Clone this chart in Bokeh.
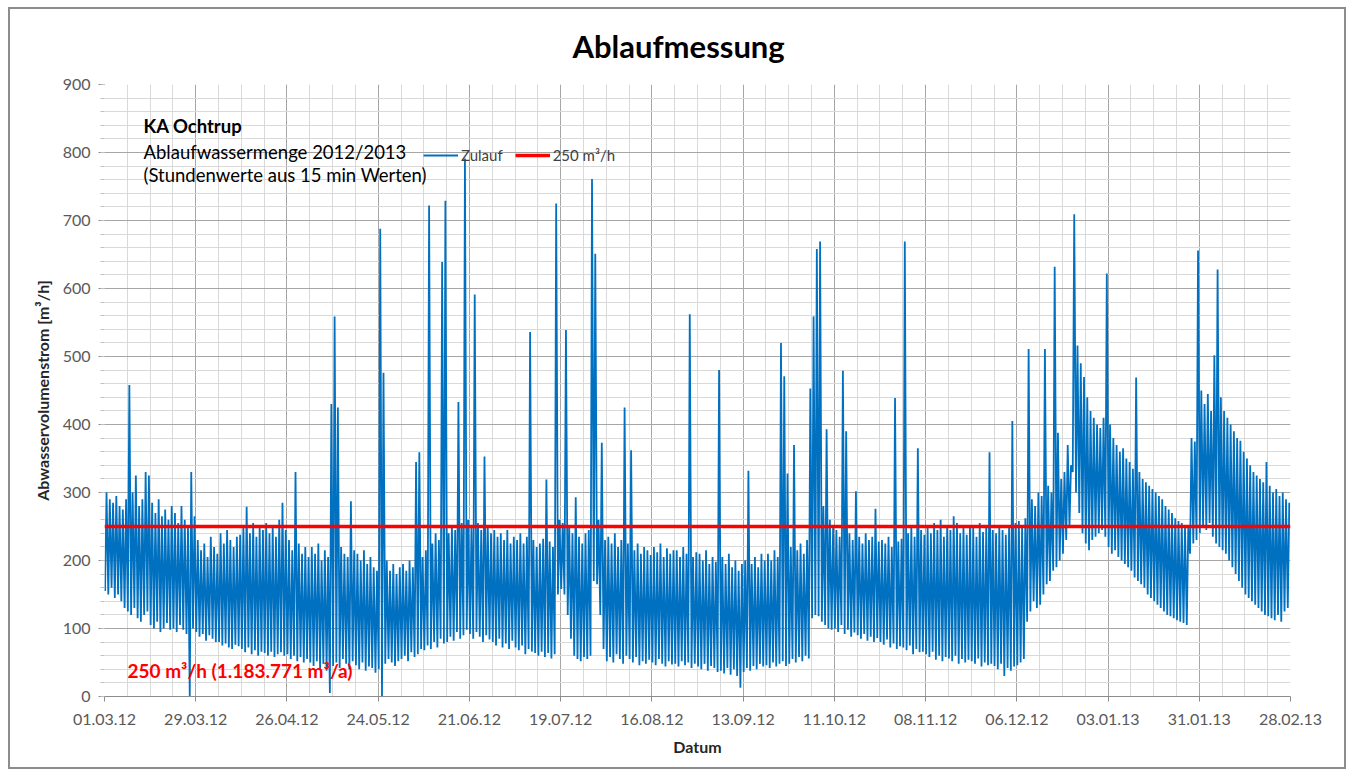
import numpy as np
import pandas as pd
from bokeh.plotting import figure
from bokeh.models import (FixedTicker, DatetimeTickFormatter, Label, Legend,
                          LegendItem, ColumnDataSource, Range1d)
from bokeh.embed import file_html
from bokeh.resources import INLINE

# ---------------- data ----------------
title_text = "Ablaufmessung"
x_label = "Datum"
y_label = "Abwasservolumenstrom [m³/h]"
series_name = "Zulauf"
threshold_name = "250 m³/h"
threshold_value = 250
info_lines = ["KA Ochtrup", "Ablaufwassermenge 2012/2013", "(Stundenwerte aus 15 min Werten)"]
threshold_note = "250 m³/h (1.183.771 m³/a)"

tick_labels = ["01.03.12", "29.03.12", "26.04.12", "24.05.12", "21.06.12", "19.07.12",
               "16.08.12", "13.09.12", "11.10.12", "08.11.12", "06.12.12", "03.01.13",
               "31.01.13", "28.02.13"]
y_ticks = [0, 100, 200, 300, 400, 500, 600, 700, 800, 900]

# daily minimum (night) values, one row per week starting 01.03.12
daily_low = [
    155, 150, 160, 145, 150, 140, 130,
    125, 120, 130, 115, 110, 120, 125,
    105, 100, 110, 95, 100, 108, 98,
    100, 95, 105, 98, 92, 0, 100,
    95, 88, 92, 82, 90, 85, 80,
    80, 75, 78, 72, 70, 76, 74,
    70, 65, 72, 62, 68, 60, 66,
    64, 60, 66, 58, 62, 65, 60,
    62, 55, 60, 52, 58, 50, 55,
    50, 45, 52, 40, 48, 38, 5,
    45, 50, 42, 55, 48, 40, 52,
    46, 40, 50, 38, 44, 42, 35,
    40, 0, 48, 55, 50, 45, 52,
    55, 60, 52, 65, 58, 62, 70,
    68, 75, 70, 80, 72, 85, 78,
    80, 88, 82, 95, 85, 90, 98,
    92, 85, 95, 88, 80, 90, 84,
    80, 75, 85, 72, 78, 70, 82,
    72, 68, 75, 62, 70, 66, 64,
    60, 66, 58, 64, 56, 62, 150,
    158, 150, 120, 85, 60, 55, 52,
    58, 55, 60, 170, 165, 120, 70,
    52, 58, 50, 62, 55, 48, 60,
    55, 50, 58, 46, 52, 48, 54,
    50, 46, 55, 48, 44, 52, 47,
    48, 44, 52, 46, 50, 42, 48,
    44, 40, 48, 38, 45, 42, 36,
    38, 34, 42, 32, 40, 30, 13,
    36, 42, 38, 45, 40, 48, 44,
    46, 42, 50, 44, 48, 52, 45,
    48, 55, 50, 58, 52, 60, 56,
    115, 120, 118, 110, 105, 100, 98,
    100, 95, 105, 92, 98, 88, 94,
    90, 85, 92, 82, 88, 80, 86,
    80, 76, 84, 72, 78, 70, 74,
    72, 68, 75, 62, 70, 65, 66,
    62, 58, 66, 54, 60, 52, 58,
    56, 52, 60, 48, 55, 50, 54,
    52, 48, 56, 44, 50, 46, 48,
    45, 40, 48, 30, 42, 38, 44,
    46, 50, 55, 110, 125, 140, 130,
    135, 150, 165, 170, 185, 190, 200,
    210, 230, 250, 330, 300, 270, 240,
    225, 215, 230, 235, 240, 245, 235,
    220, 210, 215, 205, 200, 195, 190,
    185, 175, 170, 165, 160, 150, 145,
    140, 135, 130, 125, 120, 118, 115,
    112, 110, 108, 105, 210, 225, 230,
    240, 250, 245, 255, 235, 225, 220,
    215, 210, 200, 190, 180, 170, 160,
    150, 145, 140, 135, 130, 125, 120,
    118, 115, 112, 120, 110, 125, 130,
]

# daily maximum values (incl. rain peaks), one row per week starting 01.03.12
daily_high = [
    300, 290, 285, 295, 280, 275, 290,
    458, 300, 325, 280, 290, 330, 325,
    285, 270, 290, 265, 275, 260, 280,
    270, 255, 280, 260, 250, 330, 265,
    230, 215, 225, 205, 235, 220, 210,
    240, 225, 245, 230, 220, 235, 238,
    250, 279, 240, 255, 235, 248, 245,
    255, 240, 250, 235, 260, 285, 245,
    230, 215, 330, 225, 210, 220, 205,
    220, 210, 225, 200, 215, 205, 430,
    559, 425, 220, 210, 205, 287, 215,
    210, 200, 215, 195, 205, 190, 185,
    688, 476, 200, 185, 195, 180, 190,
    195, 185, 200, 190, 345, 359, 205,
    215, 722, 225, 240, 230, 639, 729,
    240, 250, 245, 433, 255, 791, 260,
    250, 591, 255, 245, 353, 250, 240,
    245, 235, 240, 230, 245, 225, 235,
    230, 240, 225, 235, 536, 230, 220,
    225, 232, 319, 228, 220, 725, 260,
    255, 539, 250, 240, 293, 235, 225,
    240, 245, 761, 651, 260, 373, 230,
    235, 225, 240, 220, 230, 425, 225,
    362, 215, 225, 210, 220, 215, 208,
    220, 212, 225, 205, 218, 210, 215,
    215, 205, 220, 210, 562, 205, 212,
    210, 200, 215, 195, 205, 198, 480,
    205, 195, 210, 190, 200, 185, 195,
    200, 332, 195, 205, 190, 210, 200,
    210, 200, 215, 205, 520, 471, 328,
    220, 370, 215, 225, 210, 230, 453,
    559, 658, 669, 280, 393, 260, 250,
    245, 235, 479, 390, 240, 230, 302,
    235, 225, 240, 230, 235, 276, 228,
    230, 225, 235, 220, 439, 228, 232,
    669, 240, 250, 235, 365, 245, 238,
    250, 240, 255, 245, 260, 235, 250,
    245, 265, 255, 240, 250, 238, 252,
    248, 235, 255, 242, 250, 359, 245,
    240, 250, 245, 238, 248, 405, 255,
    258, 250, 262, 511, 290, 280, 300,
    295, 511, 310, 300, 632, 388, 320,
    330, 370, 340, 709, 516, 490, 470,
    440, 420, 410, 400, 395, 410, 622,
    400, 380, 370, 360, 365, 350, 345,
    335, 469, 330, 320, 315, 310, 305,
    300, 295, 290, 280, 275, 270, 262,
    258, 255, 250, 248, 380, 375, 656,
    450, 430, 445, 420, 502, 628, 440,
    420, 410, 400, 390, 380, 376, 360,
    350, 340, 330, 325, 320, 315, 345,
    310, 300, 305, 295, 300, 290, 285,
]

# ---------------- build series ----------------
FONT = "Lato"
tick_dates = pd.to_datetime(tick_labels, format="%d.%m.%y")
start = tick_dates[0]
end = tick_dates[-1]
n_days = len(daily_low)
day_starts = start + pd.to_timedelta(np.arange(n_days), unit="D")
t_low = day_starts + pd.Timedelta(hours=4)
t_high = day_starts + pd.Timedelta(hours=15)

xs = []
ys = []
for tl, th, lo, hi in zip(t_low, t_high, daily_low, daily_high):
    xs += [tl, th]
    ys += [lo, hi]
flow_src = ColumnDataSource(dict(t=xs, q=ys))
thr_src = ColumnDataSource(dict(t=[start, end], q=[threshold_value, threshold_value]))

def ms(d):
    return d.timestamp() * 1000.0

major_x = [ms(d) for d in tick_dates]
minor_x = [ms(d) for d in pd.date_range(start, end, freq="7D")]

p = figure(width=1338, height=762, x_axis_type="datetime",
           x_range=Range1d(ms(start), ms(end)), y_range=Range1d(0, 900),
           output_backend="svg", toolbar_location=None,
           min_border_left=94, min_border_right=58, min_border_top=75,
           min_border_bottom=75, title=title_text)
p.styles = {"border": "2px solid #8c8c8c", "margin-left": "8px", "margin-top": "7px"}
p.outline_line_color = None
p.background_fill_color = "white"
p.border_fill_color = "white"

p.title.align = "left"
p.title.offset = 468
p.title.vertical_align = "top"
p.title.text_font = FONT
p.title.text_font_size = "31px"
p.title.text_font_style = "bold"
p.title.text_color = "#000000"
p.title.standoff = 35

# x axis
xt = FixedTicker(ticks=major_x, minor_ticks=minor_x)
p.xaxis.ticker = xt
p.xgrid.ticker = xt
p.xaxis.formatter = DatetimeTickFormatter(days="%d.%m.%y", months="%d.%m.%y",
                                          years="%d.%m.%y", hours="%d.%m.%y")
p.xaxis.axis_label = x_label
# y axis
yt = FixedTicker(ticks=y_ticks, minor_ticks=list(range(0, 901, 20)))
p.yaxis.ticker = yt
p.ygrid.ticker = yt
p.yaxis.axis_label = y_label

for ax in (p.xaxis[0], p.yaxis[0]):
    ax.axis_line_color = "#8c8c8c"
    ax.major_tick_line_color = "#8c8c8c"
    ax.minor_tick_line_color = "#bfbfbf"
    ax.major_tick_in = 0
    ax.minor_tick_in = 0
    ax.major_label_text_font = FONT
    ax.major_label_text_font_size = "16px"
    ax.major_label_text_color = "#595959"
    ax.axis_label_text_font = FONT
    ax.axis_label_text_font_style = "bold"
    ax.axis_label_text_color = "#262626"

p.xaxis.major_tick_out = 5
p.xaxis.minor_tick_out = 0
p.xaxis.major_label_standoff = 12
p.xaxis.axis_label_standoff = 9
p.xaxis.axis_label_text_font_size = "16px"
p.yaxis.major_tick_out = 6
p.yaxis.minor_tick_out = 4
p.yaxis.major_label_standoff = 8
p.yaxis.axis_label_standoff = 8
p.yaxis.axis_label_text_font_size = "16px"
p.yaxis.axis_line_color = None

for g in (p.xgrid[0], p.ygrid[0]):
    g.grid_line_color = "#a6a6a6"
    g.grid_line_width = 1
    g.minor_grid_line_color = "#d9d9d9"
    g.minor_grid_line_width = 1

r_flow = p.line("t", "q", source=flow_src, line_color="#0070C0", line_width=1.8)
r_thr = p.line("t", "q", source=thr_src, line_color="#FF0000", line_width=3.5)

legend = Legend(items=[LegendItem(label=series_name, renderers=[r_flow]),
                       LegendItem(label=threshold_name, renderers=[r_thr])],
                orientation="horizontal", location=(319, 612 - 80),
                background_fill_alpha=0, border_line_color=None,
                glyph_width=35, glyph_height=16, label_standoff=3, spacing=12,
                padding=0, margin=0, label_text_font=FONT,
                label_text_font_size="15px", label_text_color="#404040")
p.add_layout(legend)

info_y = [571, 545, 522]
for i, (txt, yy) in enumerate(zip(info_lines, info_y)):
    p.add_layout(Label(x=39, y=yy, x_units="screen", y_units="screen", text=txt,
                       text_baseline="middle", text_font=FONT, text_font_size="18.5px",
                       text_font_style="bold" if i == 0 else "normal",
                       text_color="#000000"))
p.add_layout(Label(x=23, y=26, x_units="screen", y_units="screen", text=threshold_note,
                   text_baseline="middle", text_font=FONT, text_font_size="19px",
                   text_font_style="bold", text_color="#FF0000"))

open("out.html", "w").write(file_html(p, INLINE))
